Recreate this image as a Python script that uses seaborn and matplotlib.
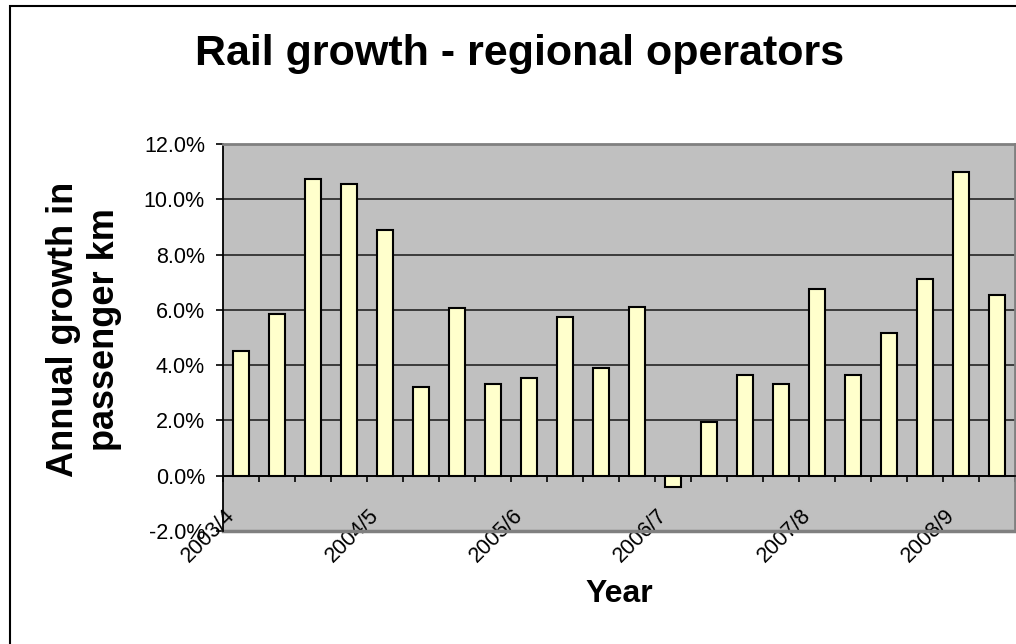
import numpy as np
import matplotlib
matplotlib.use("Agg")
import matplotlib.pyplot as plt
import matplotlib.transforms as mtransforms
from matplotlib.patches import Rectangle
from matplotlib.ticker import FixedLocator, FuncFormatter
import seaborn as sns

# Annual growth in passenger km, one value per quarter
years = ["2003/4", "2004/5", "2005/6", "2006/7", "2007/8", "2008/9"]
quarters = ["Q1", "Q2", "Q3", "Q4"]
growth = [4.5, 5.85, 10.75, 10.55, 8.9, 3.2, 6.05, 3.3, 3.55, 5.75, 3.9,
          6.1, -0.4, 1.95, 3.65, 3.3, 6.75, 3.65, 5.15, 7.1, 11.0, 6.55]
periods = [f"{y} {q}" for y in years for q in quarters][:len(growth)]
y_ticks = [-2, 0, 2, 4, 6, 8, 10, 12]

title = "Rail growth - regional operators"
x_title = "Year"
y_title = "Annual growth in\npassenger km"

plt.rcParams["font.family"] = ["Liberation Sans", "DejaVu Sans"]

fig = plt.figure(figsize=(10.16, 6.44), dpi=100)
fig.patch.set_facecolor("white")
ax = fig.add_axes([223 / 1016, 1 - 531 / 644, 792 / 1016, 387 / 644])
ax.set_facecolor("#C0C0C0")

sns.barplot(x=periods, y=growth, color="#FFFFCC", saturation=1,
            edgecolor="black", linewidth=1.5, width=0.42, ax=ax, zorder=3)

ax.set_ylim(y_ticks[0], y_ticks[-1])
ax.set_xlim(-0.5, len(periods) - 0.5)
ax.yaxis.set_major_locator(FixedLocator(y_ticks))
ax.yaxis.set_major_formatter(FuncFormatter(lambda v, _: f"{v:.1f}%"))
ax.yaxis.grid(True, color="#303030", linewidth=1.3, zorder=1)
ax.xaxis.grid(False)
ax.set_axisbelow(True)

# category axis crosses the value axis at zero
ax.spines["bottom"].set_position(("data", 0))
ax.spines["bottom"].set_color("black")
ax.spines["bottom"].set_linewidth(1.3)
ax.spines["bottom"].set_zorder(4)
ax.spines["left"].set_color("black")
ax.spines["left"].set_linewidth(1.3)
for side in ("top", "right"):
    ax.spines[side].set_color("#808080")
    ax.spines[side].set_linewidth(2)
ax.axhline(y_ticks[0], color="#808080", linewidth=2.5, clip_on=False, zorder=1.5)

# year labels on the first quarter of each year, tick marks between categories
label_pos = [periods.index(f"{y} Q1") for y in years]
ax.set_xticks(label_pos)
ax.set_xticklabels(years)
ax.set_xticks(np.arange(-0.5, len(periods), 1), minor=True)
ax.tick_params(axis="x", which="major", length=0, pad=21, labelsize=15.5)
ax.tick_params(axis="x", which="minor", length=4.5, width=1.2, color="black",
               direction="out")
ax.tick_params(axis="y", which="major", length=5, width=1.2, color="black",
               pad=8, labelsize=15.5)
shift = mtransforms.ScaledTranslation(-0.17, 0, fig.dpi_scale_trans)
for lab in ax.get_xticklabels():
    lab.set_rotation(45)
    lab.set_rotation_mode("anchor")
    lab.set_ha("right")
    lab.set_va("top")
    lab.set_transform(lab.get_transform() + shift)

ax.set_xlabel(x_title, fontsize=23, fontweight="bold", va="center")
ax.xaxis.set_label_coords(0.5, -63 / 387)
ax.set_ylabel(y_title, fontsize=26, fontweight="bold", va="center",
              ha="center", linespacing=1.25)
ax.yaxis.set_label_coords(-139 / 792, 0.52)

fig.text(520 / 1016, 1 - 54 / 644, title, fontsize=31, fontweight="bold",
         ha="center", va="center")

# chart frame
fig.add_artist(Rectangle((10 / 1016, -0.1), 1.2, 1.1 - 6 / 644,
                         transform=fig.transFigure, fill=False,
                         edgecolor="black", linewidth=1.5))

fig.savefig("out.png", dpi=100, facecolor="white")
